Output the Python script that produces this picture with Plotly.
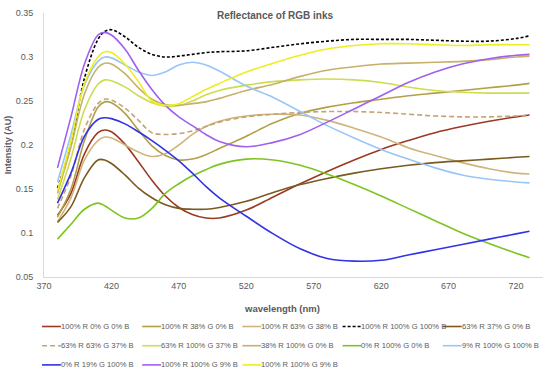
import plotly.graph_objects as go

wavelength = [380, 390, 400, 410, 415, 420, 430, 440, 450, 460, 470, 480, 490, 500,
              520, 540, 560, 580, 600, 620, 640, 660, 680, 700, 720, 730]

r100_g0_b0 = [0.120, 0.145, 0.190, 0.214, 0.217, 0.215, 0.201, 0.181, 0.160, 0.142, 0.129, 0.121, 0.117, 0.117,
              0.126, 0.141, 0.156, 0.170, 0.183, 0.195, 0.205, 0.214, 0.221, 0.227, 0.232, 0.234]
r100_g38_b0 = [0.118, 0.150, 0.205, 0.243, 0.249, 0.248, 0.236, 0.217, 0.199, 0.188, 0.183, 0.184, 0.189, 0.196,
               0.210, 0.225, 0.236, 0.243, 0.248, 0.252, 0.256, 0.259, 0.262, 0.265, 0.268, 0.270]
r100_g63_b38 = [0.113, 0.140, 0.183, 0.205, 0.209, 0.208, 0.200, 0.192, 0.187, 0.190, 0.200, 0.212, 0.221, 0.227,
                0.233, 0.235, 0.234, 0.228, 0.219, 0.209, 0.197, 0.188, 0.180, 0.173, 0.168, 0.167]
r100_g100_b100 = [0.151, 0.200, 0.276, 0.320, 0.329, 0.331, 0.323, 0.311, 0.303, 0.300, 0.301, 0.303, 0.305, 0.306,
                  0.307, 0.311, 0.315, 0.318, 0.320, 0.320, 0.320, 0.319, 0.318, 0.318, 0.321, 0.324]
r63_g37_b0 = [0.112, 0.130, 0.163, 0.183, 0.183, 0.179, 0.166, 0.151, 0.140, 0.132, 0.128, 0.127, 0.127, 0.129,
              0.136, 0.146, 0.155, 0.162, 0.168, 0.173, 0.177, 0.180, 0.182, 0.184, 0.186, 0.187]
r63_g63_b37 = [0.128, 0.165, 0.218, 0.247, 0.252, 0.251, 0.242, 0.228, 0.214, 0.212, 0.213, 0.216, 0.221, 0.226,
               0.232, 0.235, 0.237, 0.238, 0.238, 0.237, 0.235, 0.233, 0.232, 0.232, 0.233, 0.234]
r63_g100_b37 = [0.138, 0.185, 0.240, 0.269, 0.274, 0.273, 0.266, 0.256, 0.248, 0.244, 0.245, 0.250, 0.257, 0.262,
                0.268, 0.272, 0.274, 0.275, 0.274, 0.271, 0.266, 0.262, 0.260, 0.259, 0.259, 0.259]
r38_g100_b0 = [0.145, 0.198, 0.258, 0.288, 0.293, 0.292, 0.281, 0.265, 0.252, 0.246, 0.245, 0.247, 0.249, 0.253,
               0.262, 0.269, 0.278, 0.285, 0.289, 0.292, 0.293, 0.294, 0.295, 0.297, 0.300, 0.301]
r0_g100_b0 = [0.093, 0.110, 0.127, 0.134, 0.131, 0.126, 0.117, 0.117, 0.128, 0.145, 0.156, 0.165, 0.172, 0.178,
              0.184, 0.183, 0.177, 0.167, 0.155, 0.142, 0.128, 0.114, 0.100, 0.088, 0.077, 0.072]
r9_g100_b100 = [0.158, 0.212, 0.268, 0.295, 0.300, 0.299, 0.291, 0.283, 0.279, 0.283, 0.291, 0.294, 0.291, 0.284,
                0.267, 0.254, 0.238, 0.222, 0.208, 0.195, 0.184, 0.174, 0.166, 0.161, 0.158, 0.157]
r0_g19_b100 = [0.134, 0.168, 0.210, 0.229, 0.231, 0.230, 0.224, 0.215, 0.205, 0.194, 0.182, 0.168, 0.153, 0.140,
               0.119, 0.099, 0.082, 0.071, 0.068, 0.069, 0.075, 0.081, 0.087, 0.093, 0.099, 0.102]
r100_g100_b9_purple = [0.174, 0.232, 0.292, 0.325, 0.328, 0.325, 0.309, 0.285, 0.263, 0.245, 0.232, 0.222, 0.212, 0.204,
                       0.198, 0.203, 0.212, 0.226, 0.241, 0.256, 0.271, 0.283, 0.292, 0.298, 0.302, 0.303]
r100_g100_b9_yellow = [0.148, 0.205, 0.270, 0.300, 0.306, 0.305, 0.292, 0.272, 0.250, 0.245, 0.247, 0.255, 0.263, 0.270,
                       0.283, 0.293, 0.302, 0.309, 0.313, 0.315, 0.315, 0.314, 0.313, 0.314, 0.314, 0.314]

series_names = ["100% R 0% G 0% B", "100% R 38% G 0% B", "100% R 63% G 38% B", "100% R 100% G 100% B",
                "63% R 37% G 0% B", "63% R 63% G 37% B", "63% R 100% G 37% B", "38% R 100% G 0% B",
                "0% R 100% G 0% B", "9% R 100% G 100% B", "0% R 19% G 100% B", "100% R 100% G 9% B",
                "100% R 100% G 9% B"]
series_values = [r100_g0_b0, r100_g38_b0, r100_g63_b38, r100_g100_b100, r63_g37_b0, r63_g63_b37,
                 r63_g100_b37, r38_g100_b0, r0_g100_b0, r9_g100_b100, r0_g19_b100,
                 r100_g100_b9_purple, r100_g100_b9_yellow]

colors = ["#9A3A22", "#B2A048", "#D0B47C", "#000000", "#7A5A1E", "#C4A274", "#CCDD50",
          "#C8B06A", "#7DC420", "#98C6F6", "#3232E6", "#A060EE", "#EEEE1E"]
dashes = ["solid", "solid", "solid", "3px,2px", "solid", "5px,3px", "solid",
          "solid", "solid", "solid", "solid", "solid", "solid"]

W, H = 550, 374
ML, MR, MT, MB = 40, 7, 13, 97
PW, PH = W - ML - MR, H - MT - MB


def px_x(p):
    return (p - ML) / PW


def px_y(p):
    return (H - MB - p) / PH


fig = go.Figure()
for name, vals, color, dash in zip(series_names, series_values, colors, dashes):
    fig.add_trace(go.Scatter(
        x=wavelength, y=vals, name=name, mode="lines", showlegend=False,
        line=dict(color=color, width=1.6, dash=dash, shape="spline", smoothing=1.0),
    ))

# legend laid out as a 5-column grid under the chart
shapes, annotations = [], []
for i, (name, color, dash) in enumerate(zip(series_names, colors, dashes)):
    col, row = i % 5, i // 5
    x0 = 38 + col * 101
    yc = 326.5 + row * 19.2
    shapes.append(dict(type="line", xref="paper", yref="paper",
                       x0=px_x(x0), x1=px_x(x0 + 19), y0=px_y(yc), y1=px_y(yc),
                       line=dict(color=color, width=1.6, dash=dash)))
    annotations.append(dict(text=name, xref="paper", yref="paper", x=px_x(x0 + 18), y=px_y(yc),
                            xanchor="left", yanchor="middle", showarrow=False, borderpad=0,
                            font=dict(size=7.6, color="#595959", family="Liberation Sans")))

annotations.append(dict(text="<b>wavelength (nm)</b>", xref="paper", yref="paper",
                        x=px_x(280), y=px_y(308), xanchor="center", yanchor="middle",
                        showarrow=False, font=dict(size=9.5, color="#595959")))

fig.update_layout(
    width=W, height=H,
    margin=dict(l=ML, r=MR, t=MT, b=MB),
    paper_bgcolor="white", plot_bgcolor="white",
    font=dict(family="Liberation Sans", color="#595959", size=9),
    title=dict(text="<b>Reflectance of RGB inks</b>", x=0.5, xanchor="center",
               y=1 - 15 / H, yanchor="middle", font=dict(size=10, color="#595959")),
    xaxis=dict(range=[370, 740], tick0=370, dtick=50, showgrid=False, zeroline=False,
               showline=True, linecolor="#D9D9D9", linewidth=1, ticks="",
               tickfont=dict(size=9, color="#595959")),
    yaxis=dict(range=[0.05, 0.35], tick0=0.05, dtick=0.05, showgrid=False, zeroline=False,
               showline=True, linecolor="#D9D9D9", linewidth=1, ticks="",
               tickfont=dict(size=9, color="#595959"), ticklabelstandoff=8,
               title=dict(text="<b>Intensity (AU)</b>", font=dict(size=9, color="#595959"), standoff=2)),
    shapes=shapes,
    annotations=annotations,
    showlegend=False,
)

fig.write_html("out.html", config={"displayModeBar": False},
               post_script="document.body.style.margin='0';")
